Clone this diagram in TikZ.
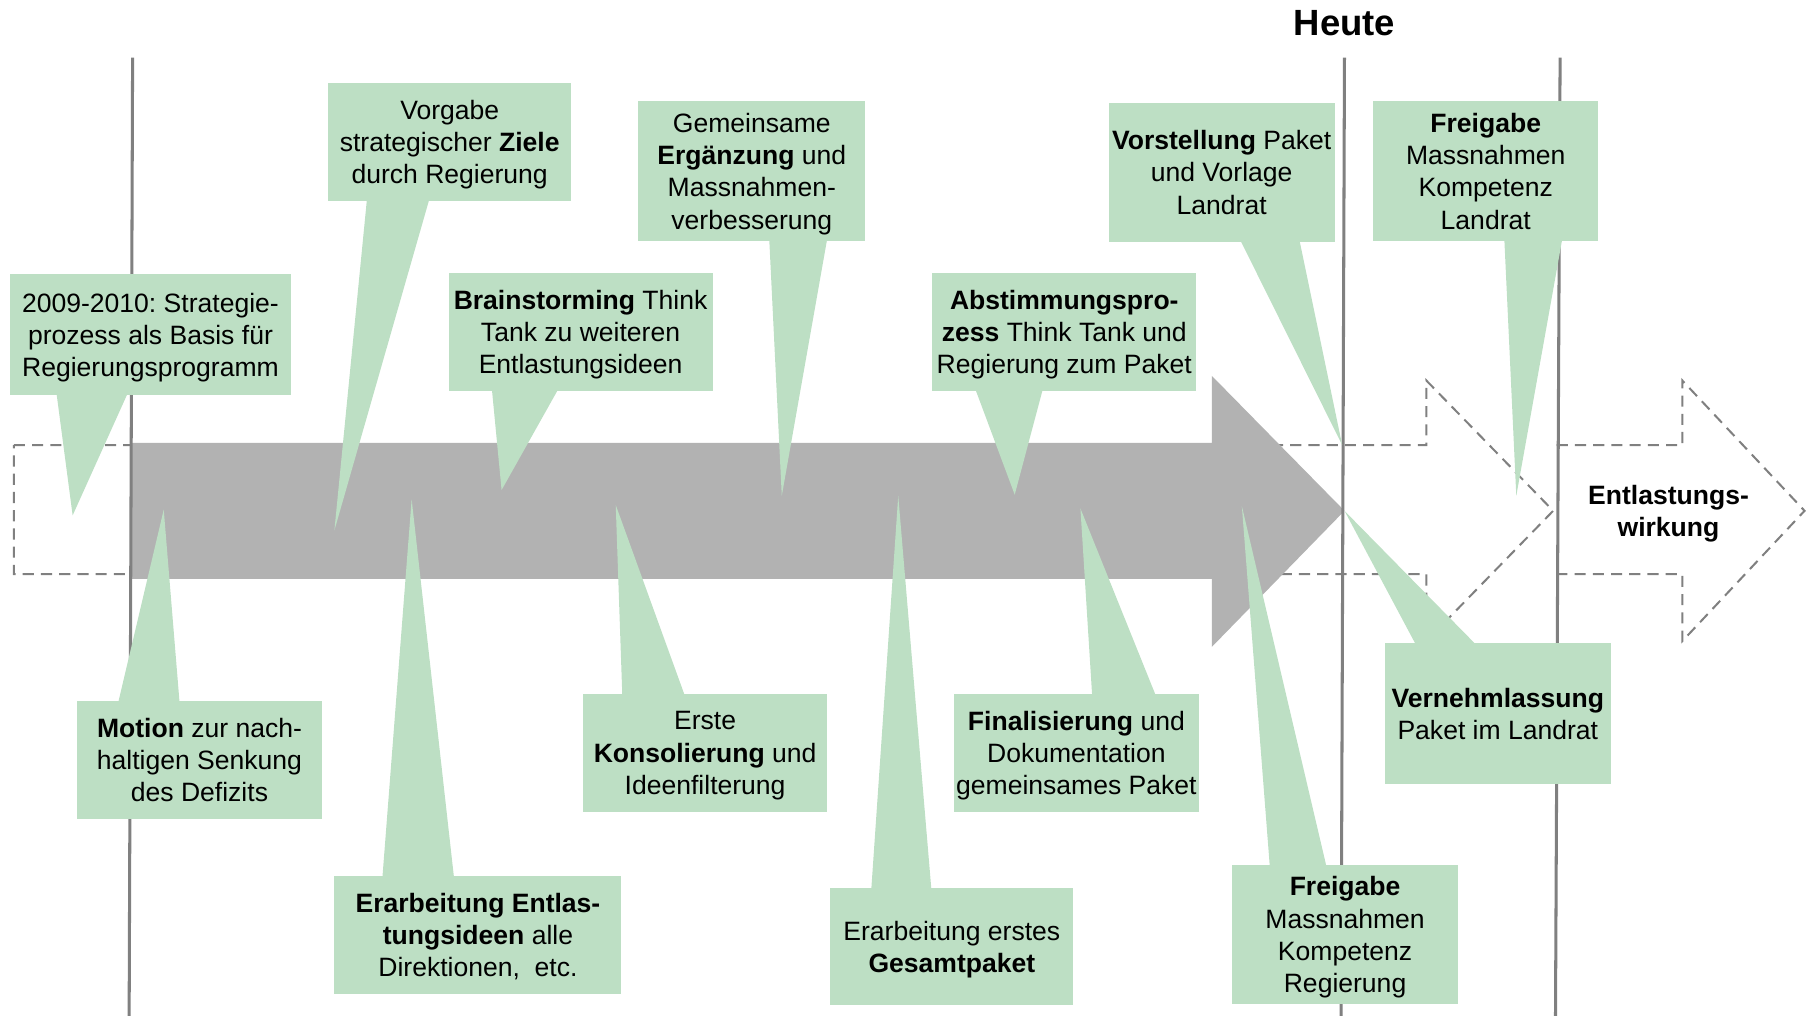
\documentclass[tikz,border=0pt]{standalone}
\usepackage{fontspec}
\setmainfont{Liberation Sans}
\frenchspacing
\usetikzlibrary{calc}
\definecolor{callgreen}{RGB}{189,223,196}
\definecolor{arrowgray}{RGB}{178,178,178}
\definecolor{linegray}{RGB}{128,128,128}
\tikzset{
  callbox/.style={fill=callgreen, align=center, inner sep=1pt, text depth=0pt,
    font=\fontsize{13.1}{15.9}\selectfont},
  pointer/.style={fill=callgreen},
  timeline/.style={draw=linegray, line width=1.5pt},
  future/.style={draw=linegray, line width=1pt, dash pattern=on 5.5pt off 3.5pt}
}
\begin{document}
\begin{tikzpicture}[x=0.02cm, y=-0.02cm]
  \useasboundingbox (0,0) rectangle (1568,881);
  % dashed outlines
  \draw[future] (12,386) -- (1237,386) -- (1237,330) -- (1347,443)
    -- (1237,556) -- (1237,498) -- (12,498) -- cycle;
  \draw[future] (1350,386) -- (1459,386) -- (1459,330) -- (1565,443)
    -- (1459,556) -- (1459,498) -- (1350,498);
  % process arrow
  \fill[arrowgray] (114,384) -- (1051,384) -- (1051,326) -- (1166,443)
    -- (1051,561) -- (1051,502) -- (114,502) -- cycle;
  % time marks
  \draw[timeline] (115,50) -- (112,881);
  \draw[timeline] (1166,50) -- (1163,881);
  \draw[timeline] (1353,50) -- (1349,881);
  \node[font=\bfseries\fontsize{18}{21}\selectfont] (heute) at (1166,20) {Heute};
  \node[align=center, text depth=0pt, font=\bfseries\fontsize{13.1}{15.9}\selectfont]
    (wirkung) at (1447,443) {Entlastungs-\\wirkung};

  % callouts above the arrow
  \node[callbox, minimum width=4.88cm, minimum height=2.1cm] (c1) at (130.5,290.5)
    {2009-2010: Strategie-\\prozess als Basis für\\Regierungsprogramm};
  \node[callbox, minimum width=4.22cm, minimum height=2.04cm] (c2) at (390,123)
    {Vorgabe\\strategischer \textbf{Ziele}\\durch Regierung};
  \node[callbox, minimum width=4.58cm, minimum height=2.04cm] (c3) at (503.5,288)
    {\textbf{Brainstorming} Think\\Tank zu weiteren\\Entlastungsideen};
  \node[callbox, minimum width=3.94cm, minimum height=2.42cm] (c4) at (652,148.5)
    {Gemeinsame\\\textbf{Ergänzung} und\\Massnahmen-\\verbesserung};
  \node[callbox, minimum width=4.58cm, minimum height=2.04cm] (c5) at (923,288)
    {\textbf{Abstimmungspro-}\\\textbf{zess} Think Tank und\\Regierung zum Paket};
  \node[callbox, minimum width=3.92cm, minimum height=2.42cm] (c6) at (1059.5,149.5)
    {\textbf{Vorstellung} Paket\\und Vorlage\\Landrat};
  \node[callbox, minimum width=3.9cm, minimum height=2.42cm] (c7) at (1288.5,148.5)
    {\textbf{Freigabe}\\Massnahmen\\Kompetenz\\Landrat};

  % callouts below the arrow
  \node[callbox, minimum width=4.24cm, minimum height=2.04cm] (c8) at (173,659)
    {\textbf{Motion} zur nach-\\haltigen Senkung\\des Defizits};
  \node[callbox, minimum width=4.98cm, minimum height=2.04cm] (c9) at (414.5,811)
    {\textbf{Erarbeitung Entlas-}\\\textbf{tungsideen} alle\\Direktionen, \ etc.};
  \node[callbox, minimum width=4.22cm, minimum height=2.04cm] (c10) at (611.5,653)
    {Erste\\\textbf{Konsolierung} und\\Ideenfilterung};
  \node[callbox, minimum width=4.22cm, minimum height=2.04cm] (c11) at (825.5,821)
    {Erarbeitung erstes\\\textbf{Gesamtpaket}};
  \node[callbox, minimum width=4.22cm, minimum height=2.04cm] (c12) at (933.5,653)
    {\textbf{Finalisierung} und\\Dokumentation\\gemeinsames Paket};
  \node[callbox, minimum width=3.92cm, minimum height=2.42cm] (c13) at (1166.5,810.5)
    {\textbf{Freigabe}\\Massnahmen\\Kompetenz\\Regierung};
  \node[callbox, minimum width=3.92cm, minimum height=2.44cm] (c14) at (1299,619)
    {\textbf{Vernehmlassung}\\Paket im Landrat};

  % pointer tips
  \coordinate (t1) at (63,447);
  \coordinate (t2) at (290,460);
  \coordinate (t3) at (435,425);
  \coordinate (t4) at (678,430);
  \coordinate (t5) at (880,429);
  \coordinate (t6) at (1164,386);
  \coordinate (t7) at (1315,430);
  \coordinate (t8) at (142,442);
  \coordinate (t9) at (357,433);
  \coordinate (t10) at (534,438);
  \coordinate (t11) at (779,430);
  \coordinate (t12) at (937,441);
  \coordinate (t13) at (1077,439);
  \coordinate (t14) at (1166,443);

  \begin{scope}[pointer]
    \fill ($(c1.south west)+(41,-1)$) -- (t1) -- ($(c1.south west)+(102,-1)$) -- cycle;
    \fill ($(c2.south west)+(34,-1)$) -- (t2) -- ($(c2.south west)+(88,-1)$) -- cycle;
    \fill ($(c3.south west)+(38,-1)$) -- (t3) -- ($(c3.south west)+(95,-1)$) -- cycle;
    \fill ($(c4.south west)+(114,-1)$) -- (t4) -- ($(c4.south west)+(164,-1)$) -- cycle;
    \fill ($(c5.south west)+(38,-1)$) -- (t5) -- ($(c5.south west)+(96,-1)$) -- cycle;
    \fill ($(c6.south west)+(115,-1)$) -- (t6) -- ($(c6.south west)+(166,-1)$) -- cycle;
    \fill ($(c7.south west)+(114,-1)$) -- (t7) -- ($(c7.south west)+(164,-1)$) -- cycle;
    \fill ($(c8.north west)+(36,1)$) -- (t8) -- ($(c8.north west)+(89,1)$) -- cycle;
    \fill ($(c9.north west)+(42,1)$) -- (t9) -- ($(c9.north west)+(104,1)$) -- cycle;
    \fill ($(c10.north west)+(34,1)$) -- (t10) -- ($(c10.north west)+(88,1)$) -- cycle;
    \fill ($(c11.north west)+(36,1)$) -- (t11) -- ($(c11.north west)+(88,1)$) -- cycle;
    \fill ($(c12.north west)+(120,1)$) -- (t12) -- ($(c12.north west)+(175,1)$) -- cycle;
    \fill ($(c13.north west)+(33,1)$) -- (t13) -- ($(c13.north west)+(82,1)$) -- cycle;
    \fill ($(c14.north west)+(27,1)$) -- (t14) -- ($(c14.north west)+(79,1)$) -- cycle;
  \end{scope}
\end{tikzpicture}
\end{document}
